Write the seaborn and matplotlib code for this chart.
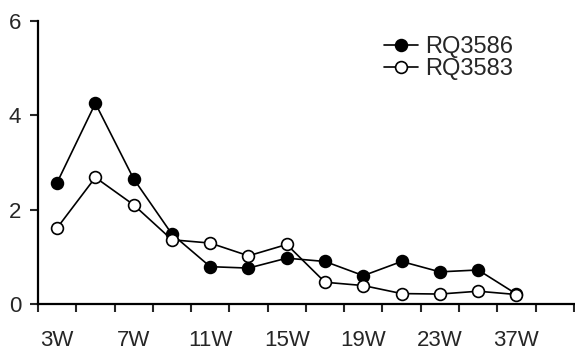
import matplotlib
matplotlib.use("Agg")
import matplotlib.pyplot as plt
import numpy as np
import pandas as pd
import seaborn as sns

# categories (weeks); last slot on the axis is left empty
weeks = ["3W", "5W", "7W", "9W", "11W", "13W", "15W", "17W", "19W",
         "21W", "23W", "25W", "37W"]
rq3586 = [2.57, 4.25, 2.65, 1.48, 0.79, 0.76, 0.97, 0.90, 0.60,
          0.90, 0.68, 0.72, 0.21]
rq3583 = [1.61, 2.68, 2.10, 1.36, 1.29, 1.02, 1.26, 0.46, 0.39,
          0.22, 0.21, 0.27, 0.20]
tick_labels = weeks[::2]
y_ticks = [0, 2, 4, 6]

sns.set_style("ticks")
plt.rcParams["font.family"] = ["Liberation Sans", "DejaVu Sans"]

fig = plt.figure(figsize=(5.75, 3.51), dpi=100)
ax = fig.add_axes([0.066, 0.134, 0.932, 0.807])

df = pd.DataFrame({"week": weeks, "RQ3586": rq3586, "RQ3583": rq3583})

sns.lineplot(data=df, x="week", y="RQ3586", ax=ax, color="black",
             linewidth=1.2, marker="o", markersize=8.5,
             markerfacecolor="black", markeredgecolor="black",
             markeredgewidth=1.2, label="RQ3586", sort=False)
sns.lineplot(data=df, x="week", y="RQ3583", ax=ax, color="black",
             linewidth=1.2, marker="o", markersize=8.5,
             markerfacecolor="white", markeredgecolor="black",
             markeredgewidth=1.2, label="RQ3583", sort=False)

n = len(weeks) + 1
ax.set_xlim(-0.5, n - 0.5)
ax.set_ylim(0, 6)
ax.set_xticks(np.arange(0, len(weeks), 2))
ax.set_xticklabels(tick_labels)
ax.set_xticks(np.arange(-0.5, n, 1.0), minor=True)
ax.set_yticks(y_ticks)
ax.set_xlabel("")
ax.set_ylabel("")

ax.tick_params(axis="x", which="major", length=0, pad=19, labelsize=16)
ax.tick_params(axis="x", which="minor", length=6, width=1.5, direction="out")
ax.tick_params(axis="y", length=6, width=1.5, pad=6, labelsize=16)

for side in ["top", "right"]:
    ax.spines[side].set_visible(False)
for side in ["left", "bottom"]:
    ax.spines[side].set_linewidth(1.6)
    ax.spines[side].set_color("black")

ax.legend(loc="upper left", bbox_to_anchor=(0.645, 0.945), frameon=False,
          fontsize=17, handlelength=1.45, handletextpad=0.3,
          labelspacing=0.0, borderpad=0, borderaxespad=0)

fig.savefig("out.png", dpi=100)
